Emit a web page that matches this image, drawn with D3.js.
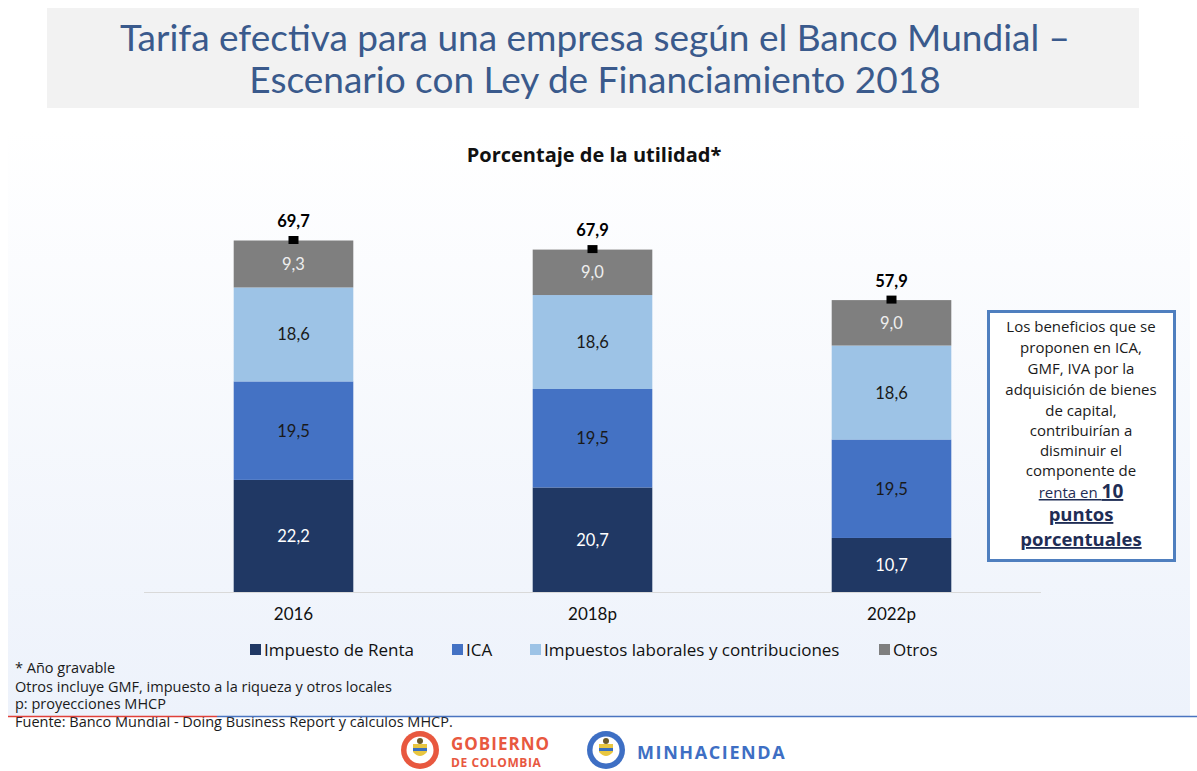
<!DOCTYPE html>
<html>
<head>
<meta charset="utf-8">
<script src="https://cdn.jsdelivr.net/npm/d3@7"></script>
<style>
  body { margin: 0; background: #fff; }
  svg { display: block; }
</style>
</head>
<body>
<div id="chart"></div>
<script>
// Data
var years = ["2016", "2018p", "2022p"];
var seriesNames = ["Impuesto de Renta", "ICA", "Impuestos laborales y contribuciones", "Otros"];
var renta = [22.2, 20.7, 10.7];
var ica = [19.5, 19.5, 19.5];
var laborales = [18.6, 18.6, 18.6];
var otros = [9.3, 9.0, 9.0];
var totals = [69.7, 67.9, 57.9];

var colors = ["#203864", "#4472c4", "#9dc3e6", "#7f7f7f"];
var labelColors = ["#ffffff", "#1a1a1a", "#1a1a1a", "#eeeeee"];

var W = 1197, H = 771;
var svg = d3.select("#chart").append("svg").attr("width", W).attr("height", H);

// background gradient panel
var defs = svg.append("defs");
var grad = defs.append("linearGradient").attr("id", "bg").attr("x1", 0).attr("y1", 0).attr("x2", 0).attr("y2", 1);
grad.append("stop").attr("offset", "0%").attr("stop-color", "#ffffff");
grad.append("stop").attr("offset", "100%").attr("stop-color", "#edf2fb");
svg.append("rect").attr("x", 8).attr("y", 130).attr("width", 1182).attr("height", 586).attr("fill", "url(#bg)");

// title box
svg.append("rect").attr("x", 47).attr("y", 8).attr("width", 1092).attr("height", 100).attr("fill", "#f2f2f2");
var title = svg.append("text").attr("text-anchor", "middle")
  .style("font-family", "Lato, sans-serif").style("font-size", "37px").style("fill", "#3a5a8c");
title.append("tspan").attr("x", 595).attr("y", 51).text("Tarifa efectiva para una empresa según el Banco Mundial –");
title.append("tspan").attr("x", 595).attr("y", 93).text("Escenario con Ley de Financiamiento 2018");

svg.append("text").attr("x", 594).attr("y", 162).attr("text-anchor", "middle")
  .style("font-family", "'Open Sans', sans-serif").style("font-weight", "bold").style("font-size", "20px")
  .style("fill", "#111").text("Porcentaje de la utilidad*");

// scales
var x = d3.scaleBand().domain(years).range([144, 1041]).paddingInner(0.6).paddingOuter(0.3);
var y = d3.scaleLinear().domain([0, 69.7]).range([592, 240]);

var table = years.map(function (yr, i) {
  return { year: yr, "Impuesto de Renta": renta[i], "ICA": ica[i],
    "Impuestos laborales y contribuciones": laborales[i], "Otros": otros[i], total: totals[i] };
});
var stacked = d3.stack().keys(seriesNames)(table);

var layers = svg.append("g").selectAll("g")
  .data(stacked)
  .enter().append("g")
    .attr("fill", function (d, i) { return colors[i]; });

layers.selectAll("rect")
  .data(function (d) { return d; })
  .enter().append("rect")
    .attr("x", function (d) { return x(d.data.year); })
    .attr("y", function (d) { return y(d[1]); })
    .attr("height", function (d) { return y(d[0]) - y(d[1]); })
    .attr("width", x.bandwidth());

layers.each(function (layer, li) {
  d3.select(this).selectAll("text")
    .data(layer)
    .enter().append("text")
      .attr("x", function (d) { return x(d.data.year) + x.bandwidth() / 2; })
      .attr("y", function (d) { return (y(d[0]) + y(d[1])) / 2 + 6; })
      .attr("text-anchor", "middle")
      .style("font-family", "Lato, sans-serif").style("font-size", "16.5px")
      .style("fill", labelColors[li])
      .text(function (d) { return d3.format(".1f")(d[1] - d[0]).replace(".", ","); });
});

// total markers and labels
var tot = svg.append("g");
tot.selectAll("rect")
  .data(table)
  .enter().append("rect")
    .attr("x", function (d) { return x(d.year) + x.bandwidth() / 2 - 5; })
    .attr("y", function (d) { return y(d.total) - 4; })
    .attr("width", 10).attr("height", 8).attr("fill", "#000");
tot.selectAll("text")
  .data(table)
  .enter().append("text")
    .attr("x", function (d) { return x(d.year) + x.bandwidth() / 2; })
    .attr("y", function (d) { return y(d.total) - 13; })
    .attr("text-anchor", "middle")
    .style("font-family", "Lato, sans-serif").style("font-weight", "bold").style("font-size", "16.5px")
    .style("fill", "#000")
    .text(function (d) { return d3.format(".1f")(d.total).replace(".", ","); });

// x axis
var xAxis = svg.append("g").attr("transform", "translate(0,592)")
  .call(d3.axisBottom(x).tickSize(0).tickPadding(16));
xAxis.select(".domain").attr("stroke", "#d9d9d9").attr("d", "M144,0.5H1041");
xAxis.selectAll("text").style("font-family", "Lato, sans-serif").style("font-size", "17px").style("fill", "#111");

// legend
var legendX = [250, 452, 530, 879];
var legend = svg.append("g").selectAll("g")
  .data(seriesNames)
  .enter().append("g")
    .attr("transform", function (d, i) { return "translate(" + legendX[i] + ",650)"; });
legend.append("rect").attr("x", 0).attr("y", -6).attr("width", 11).attr("height", 11)
  .attr("fill", function (d, i) { return colors[i]; });
legend.append("text").attr("x", 14).attr("y", 6)
  .style("font-family", "'Open Sans', sans-serif").style("font-size", "17px").style("fill", "#111")
  .text(function (d) { return d; });

// annotation box
svg.append("rect").attr("x", 988.5).attr("y", 311.5).attr("width", 186).attr("height", 249)
  .attr("fill", "#fff").attr("stroke", "#4f7fbf").attr("stroke-width", 3);
var boxLines = [
  ["Los beneficios que se", 332],
  ["proponen en ICA,", 353],
  ["GMF, IVA por la", 374],
  ["adquisición de bienes", 395],
  ["de capital,", 416],
  ["contribuirían a", 436],
  ["disminuir el", 456],
  ["componente de", 476]
];
var boxText = svg.append("g").style("font-family", "'Open Sans', sans-serif").style("fill", "#1a1a1a");
boxLines.forEach(function (l) {
  boxText.append("text").attr("x", 1081).attr("y", l[1]).attr("text-anchor", "middle")
    .style("font-size", "15px").text(l[0]);
});
var l9 = boxText.append("text").attr("x", 1081).attr("y", 498).attr("text-anchor", "middle")
  .style("text-decoration", "underline").style("fill", "#1f2d55");
l9.append("tspan").style("font-size", "15px").text("renta en ");
l9.append("tspan").style("font-size", "19px").style("font-weight", "bold").text("10");
boxText.append("text").attr("x", 1081).attr("y", 521).attr("text-anchor", "middle")
  .style("text-decoration", "underline").style("font-size", "18.5px").style("font-weight", "bold")
  .style("fill", "#1f2d55").text("puntos");
boxText.append("text").attr("x", 1081).attr("y", 546).attr("text-anchor", "middle")
  .style("text-decoration", "underline").style("font-size", "18.5px").style("font-weight", "bold")
  .style("fill", "#1f2d55").text("porcentuales");

// footnotes
var notes = ["* Año gravable", "Otros incluye GMF, impuesto a la riqueza y otros locales", "p: proyecciones MHCP", "Fuente: Banco Mundial - Doing Business Report y cálculos MHCP."];
var noteY = [673, 692, 709, 727];
svg.append("g").selectAll("text")
  .data(notes)
  .enter().append("text")
    .attr("x", 15).attr("y", function (d, i) { return noteY[i]; })
    .style("font-family", "'Open Sans', sans-serif").style("font-size", "14.5px").style("fill", "#1a1a1a")
    .text(function (d) { return d; });

// separator line
svg.append("line").attr("x1", 8).attr("x2", 217).attr("y1", 716.5).attr("y2", 716.5).attr("stroke", "#e0403a").attr("stroke-width", 1.5);
svg.append("line").attr("x1", 217).attr("x2", 1197).attr("y1", 716.5).attr("y2", 716.5).attr("stroke", "#4a74c0").attr("stroke-width", 1.5);

// logos (simplified)
function seal(cx, cy, col) {
  var g = svg.append("g");
  g.append("circle").attr("cx", cx).attr("cy", cy).attr("r", 19).attr("fill", col);
  g.append("circle").attr("cx", cx).attr("cy", cy).attr("r", 13.5).attr("fill", "#fff");
  g.append("path").attr("d", "M" + (cx - 7) + "," + (cy - 6) + "h14v8q-7,8 -14,0z").attr("fill", "#e8c640");
  g.append("rect").attr("x", cx - 7).attr("y", cy - 2).attr("width", 14).attr("height", 3).attr("fill", "#3a6fbf");
  g.append("circle").attr("cx", cx).attr("cy", cy - 9).attr("r", 3).attr("fill", "#6b5a2a");
}
seal(420, 750, "#e8583f");
seal(606, 750, "#3e6fc4");
svg.append("text").attr("x", 451).attr("y", 750).style("font-family", "'Open Sans', sans-serif")
  .style("font-weight", "bold").style("font-size", "17px").style("letter-spacing", "1px")
  .style("fill", "#e8583f").text("GOBIERNO");
svg.append("text").attr("x", 451).attr("y", 767).style("font-family", "'Open Sans', sans-serif")
  .style("font-weight", "bold").style("font-size", "12px").style("letter-spacing", "0.6px")
  .style("fill", "#e8583f").text("DE COLOMBIA");
svg.append("text").attr("x", 637).attr("y", 759).style("font-family", "'Open Sans', sans-serif")
  .style("font-weight", "bold").style("font-size", "18px").style("letter-spacing", "1.6px")
  .style("fill", "#3e6fc4").text("MINHACIENDA");
</script>
</body>
</html>
